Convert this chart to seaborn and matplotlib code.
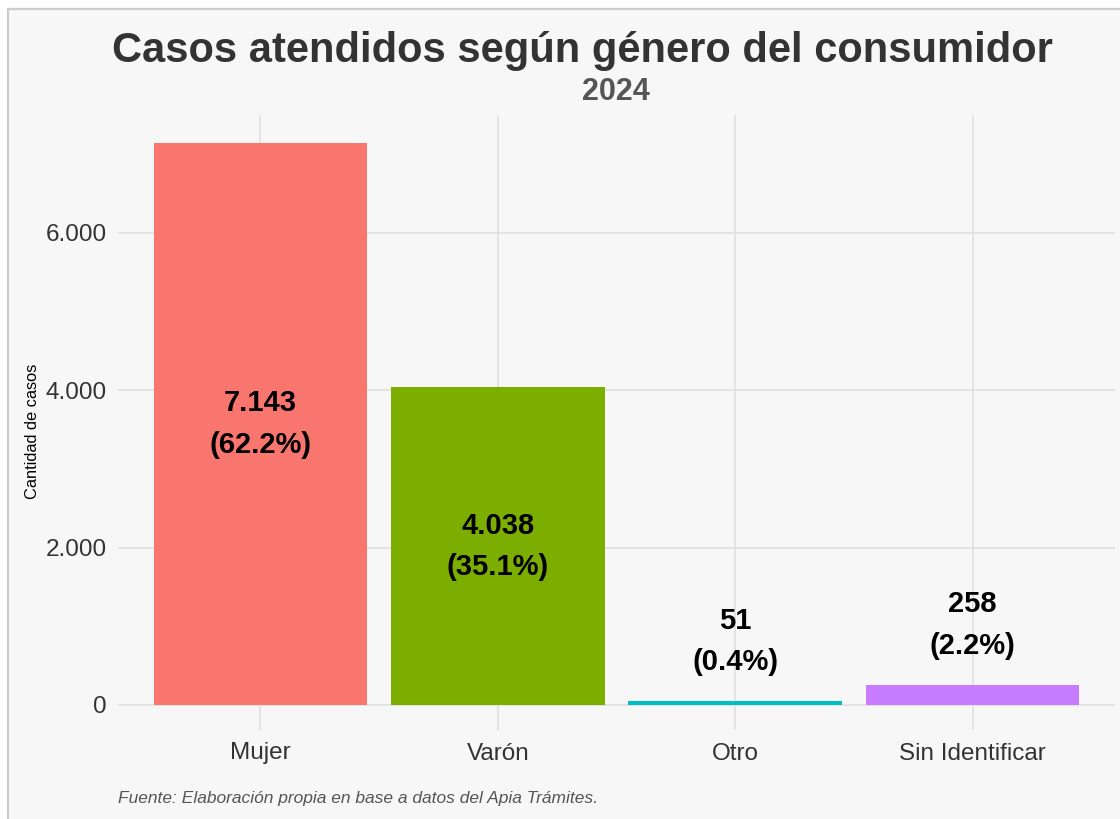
"""Bar chart: cases attended by consumer gender, 2024."""

import matplotlib
matplotlib.use("Agg")
import matplotlib.pyplot as plt
from matplotlib.patches import Rectangle
import pandas as pd
import seaborn as sns

categories = ["Mujer", "Varón", "Otro", "Sin Identificar"]
casos = [7143, 4038, 51, 258]
porcentajes = [62.2, 35.1, 0.4, 2.2]
colores = ["#F8766D", "#7CAE00", "#00BFC4", "#C77CFF"]
y_ticks = [0, 2000, 4000, 6000]
y_tick_labels = ["0", "2.000", "4.000", "6.000"]

sns.set_theme(style="white")
plt.rcParams["font.family"] = ["Liberation Sans", "DejaVu Sans"]

W, H = 1120, 819
fig = plt.figure(figsize=(W / 100, H / 100), dpi=100, facecolor="white")

# panel background with light border (only left/top visible)
fig.patches.append(Rectangle((8 / W, -0.05), 1.1, 1 - 9 / H + 0.05,
                             transform=fig.transFigure, facecolor="#f7f7f7",
                             edgecolor="#cccccc", linewidth=1.6, zorder=-10))

ax = fig.add_axes([118 / W, 1 - 730 / H, (1115 - 118) / W, (730 - 115) / H])
ax.set_facecolor("none")

df = pd.DataFrame({"genero": categories, "casos": casos})
sns.barplot(data=df, x="genero", y="casos", hue="genero", palette=colores,
            order=categories, hue_order=categories, legend=False,
            width=0.9, saturation=1, linewidth=0, ax=ax, zorder=3)

ax.set_xlim(-0.6, 3.6)
ax.set_ylim(-318, 7500)
ax.set_yticks(y_ticks)
ax.set_yticklabels(y_tick_labels)
ax.grid(True, color="#dedede", linewidth=1.1, zorder=0)
ax.set_axisbelow(True)
for s in ax.spines.values():
    s.set_visible(False)
ax.tick_params(axis="both", length=0, labelsize=17.5, colors="#333333")
ax.tick_params(axis="y", pad=8)
ax.tick_params(axis="x", pad=9)
ax.set_xlabel("")
ax.set_ylabel("")

for i, (v, p) in enumerate(zip(casos, porcentajes)):
    y = v / 2 if v > 1000 else v + 760
    ax.text(i, y, f"{v:,}".replace(",", ".") + f"\n({p}%)", ha="center",
            va="center", fontsize=21, fontweight="bold", color="black",
            linespacing=1.6, zorder=5)

fig.text(582 / W, 1 - 62 / H, "Casos atendidos según género del consumidor",
         ha="center", va="baseline", fontsize=30, fontweight="bold",
         color="#333333")
fig.text(616 / W, 1 - 100 / H, "2024", ha="center", va="baseline",
         fontsize=22, fontweight="bold", color="#555555")
fig.text(33 / W, 1 - 431 / H, "Cantidad de casos", rotation=90, ha="center",
         va="center", fontsize=11.8, color="black")
fig.text(118 / W, 1 - 803 / H,
         "Fuente: Elaboración propia en base a datos del Apia Trámites.",
         ha="left", va="baseline", fontsize=12.5, style="italic",
         color="#555555")

fig.savefig("out.png", dpi=100, facecolor="white")
